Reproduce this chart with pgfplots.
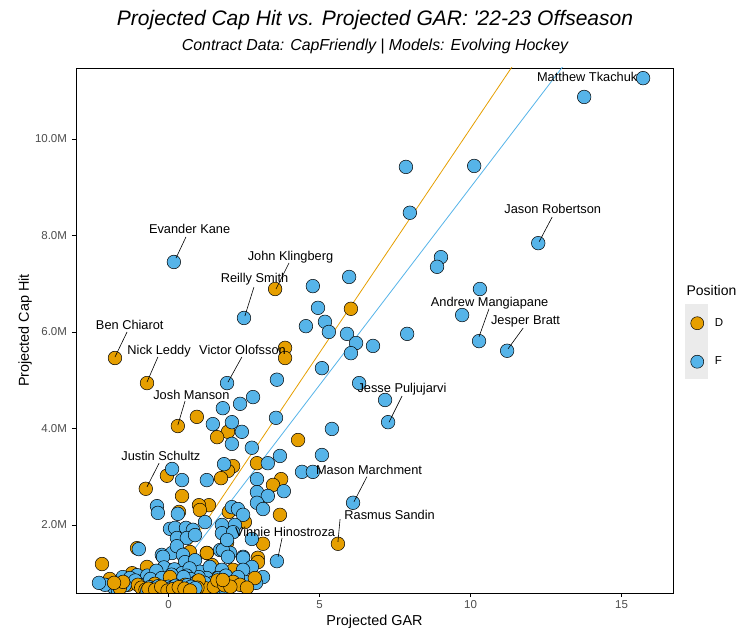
\documentclass[border=0pt]{standalone}
\usepackage{pgfplots}
\pgfplotsset{compat=1.18}
\usepackage{fontspec}
\setmainfont{Liberation Sans}
\definecolor{cD}{HTML}{E69F00}
\definecolor{cF}{HTML}{56B4E9}
\definecolor{tickgray}{HTML}{4D4D4D}
\definecolor{keygray}{HTML}{EBEBEB}
\tikzset{lab/.style={font=\fontsize{12.8}{15}\selectfont, inner sep=0pt}}
\pgfplotsset{dstyle/.style={only marks, mark=*, mark size=6.8pt, mark options={fill=cD, draw=black, line width=0.5pt}, forget plot},
  fstyle/.style={only marks, mark=*, mark size=6.8pt, mark options={fill=cF, draw=black, line width=0.5pt}, forget plot}}
\begin{document}
\begin{tikzpicture}
\path[use as bounding box, fill=white] (0pt,0pt) rectangle (750pt,637pt);
\fill[keygray] (685pt,258pt) rectangle (708pt,333pt);
\node[font=\fontsize{21}{25}\selectfont\itshape] at (375pt,617pt) {Projected Cap Hit vs. Projected GAR: \textquotesingle 22-23 Offseason};
\node[font=\fontsize{15.9}{19}\selectfont\itshape] at (375pt,590pt) {Contract Data: CapFriendly | Models: Evolving Hockey};
\node[font=\fontsize{14}{17}\selectfont, anchor=west] at (683pt,346pt) {Position};
\begin{axis}[
  clip marker paths=true,
  at={(76pt,44pt)}, anchor=south west,
  scale only axis, width=597pt, height=525pt,
  xmin=-3.06, xmax=16.7, ymin=0.59, ymax=11.47,
  xtick={0,5,10,15}, ytick={2,4,6,8,10},
  yticklabels={2.0M,4.0M,6.0M,8.0M,10.0M},
  tick align=outside, tick pos=left, major tick length=4pt,
  tick style={black, line width=0.5pt},
  axis line style={black, line width=0.8pt},
  ticklabel style={font=\fontsize{11.5}{13}\selectfont, text=tickgray},
  yticklabel style={xshift=-1.5pt},
  /pgf/number format/assume math mode=true,
  xlabel={Projected GAR}, ylabel={Projected Cap Hit},
  label style={font=\fontsize{14.4}{17}\selectfont},
  x label style={at={(axis description cs:0.5,-0.054)}, anchor=center},
  y label style={at={(axis description cs:-0.085,0.5)}, anchor=center},
  legend style={at={(1.0293,0.5267)}, anchor=north west, draw=none, fill=none,
    inner sep=0pt, outer sep=0pt, row sep=25pt, column sep=10pt,
    font=\fontsize{11.5}{13}\selectfont, nodes={inner sep=1pt}},
  legend cell align=left,
]
% regression lines
\addplot[cF, line width=0.8pt, forget plot] coordinates {(-3.06,-1.71) (16.7,14.49)};
\addplot[cD, line width=0.8pt, forget plot] coordinates {(-3.06,-1.93) (16.7,16.45)};
% Defensemen (first batch)
\addplot[dstyle] table {
x y
3.53 6.89
6.04 6.48
3.86 5.67
3.86 5.46
-1.77 5.46
-0.71 4.94
0.31 4.05
-0.75 2.75
5.61 1.61
4.29 3.76
0.94 4.24
1.97 3.93
1.61 3.82
2.93 3.28
2.14 3.22
1.97 3.12
1.74 2.97
3.73 2.95
3.46 2.83
-0.05 3.02
0.45 2.60
1.34 2.41
1.01 2.41
0.35 2.27
1.04 2.31
2.00 2.27
2.53 2.06
3.69 2.21
1.94 1.63
3.13 1.61
2.96 1.32
-1.04 1.52
-2.20 1.19
-1.94 0.88
-0.71 1.13
0.71 1.44
1.27 1.42
2.96 1.23
0.71 0.94
1.44 1.17
0.90 1.05
-1.20 1.00
-0.20 0.95
-1.34 0.76
-0.31 0.86
1.61 0.96
2.14 1.07
-0.12 0.80
0.35 0.82
-0.16 0.80
0.18 0.84
0.42 0.78
-0.52 0.84
0.76 0.82
-0.90 0.80
1.30 0.78
};
% Forwards
\addplot[fstyle] table {
x y
15.71 11.26
13.76 10.87
12.24 7.84
7.86 9.42
10.12 9.44
7.99 8.47
0.18 7.45
2.50 6.29
4.78 6.95
5.98 7.14
4.95 6.50
4.55 6.12
5.18 6.21
5.31 6.00
5.91 5.96
6.21 5.77
6.77 5.71
6.04 5.56
5.08 5.25
3.59 5.01
1.94 4.94
6.31 4.94
7.27 4.13
7.17 4.59
10.28 5.81
11.21 5.61
10.31 6.89
9.72 6.35
7.90 5.96
9.02 7.55
8.89 7.35
6.11 2.46
3.59 1.25
5.41 3.99
5.08 3.45
4.42 3.10
4.78 3.10
2.80 4.65
2.37 4.51
1.80 4.42
3.56 4.22
1.47 4.09
2.10 4.13
2.43 3.93
2.10 3.68
2.76 3.60
3.69 3.43
3.29 3.28
1.84 3.26
1.27 2.93
2.93 2.95
3.82 2.70
2.93 2.68
3.29 2.60
2.93 2.46
3.13 2.33
2.10 2.37
2.30 2.33
2.47 2.21
1.21 2.06
1.77 2.00
2.20 2.00
1.77 1.83
2.14 1.85
2.76 1.71
1.71 1.48
2.04 1.42
2.47 1.34
0.12 3.16
0.45 2.93
-0.38 2.39
-0.35 2.25
0.31 2.23
0.05 1.92
0.22 1.94
0.58 1.94
0.81 1.90
0.28 1.73
0.61 1.73
0.88 1.79
-0.98 1.50
-0.22 1.38
0.12 1.42
0.28 1.56
0.48 1.38
-1.84 0.72
-1.51 0.92
-1.04 0.96
-0.84 0.84
-0.51 0.92
-0.25 1.01
-0.02 1.07
-0.18 1.34
0.55 1.23
0.88 1.27
1.04 1.03
1.37 1.13
1.27 0.90
1.14 0.72
1.47 0.80
0.88 0.80
0.55 0.86
0.28 0.96
0.05 0.82
-0.05 0.72
1.77 1.07
1.80 1.48
1.97 1.34
1.94 1.69
2.10 0.86
2.47 1.32
2.76 1.13
2.47 1.07
3.13 0.92
-2.10 0.76
-1.67 0.65
-0.68 0.69
-0.35 0.65
0.38 0.65
0.71 0.69
1.54 0.65
1.87 0.69
-1.27 0.90
2.53 0.82
-0.55 0.80
-0.30 0.75
-0.10 0.88
0.15 0.78
0.40 0.72
0.65 0.85
0.80 0.76
1.00 0.92
-0.70 0.95
-0.15 1.12
0.20 1.08
0.45 1.00
0.70 1.10
1.20 0.80
1.65 0.90
-1.10 0.85
-1.45 0.75
0.00 0.68
0.30 0.66
0.60 0.95
-0.40 1.05
1.90 0.95
2.30 0.92
2.90 0.80
-2.30 0.80
-0.80 0.70
-0.72 0.78
-0.64 0.66
-0.56 0.74
-0.48 0.70
-0.40 0.82
-0.33 0.70
-0.26 0.79
-0.19 0.66
-0.12 0.74
-0.05 0.84
0.02 0.75
0.08 0.66
0.14 0.88
0.20 0.72
0.26 0.80
0.33 0.68
0.39 0.86
0.46 0.74
0.52 0.66
0.59 0.80
0.66 0.70
0.73 0.88
0.80 0.66
0.86 0.73
0.93 0.82
-0.60 0.88
-0.22 0.90
0.10 0.97
0.50 0.92
};
% Defensemen (second batch, drawn over forwards)
\addplot[dstyle] table {
x y
-1.01 0.76
1.27 1.42
1.71 0.82
2.14 0.82
0.22 0.69
0.55 0.76
0.88 0.65
-0.61 0.65
-1.61 0.69
1.21 0.69
2.37 0.76
2.86 0.90
-0.45 0.78
0.05 0.92
0.60 0.72
1.00 0.85
-0.90 0.70
1.50 0.72
2.60 0.70
-0.76 0.66
-0.36 0.67
0.04 0.70
0.62 0.67
0.96 0.70
1.62 0.85
1.85 0.75
2.05 0.72
1.80 0.86
-1.50 0.82
-1.80 0.80
};
% Forwards (dense cluster at the league minimum)
\addplot[fstyle] table {
x y
-0.70 0.64
-0.62 0.71
-0.55 0.63
-0.47 0.69
-0.41 0.62
-0.34 0.73
-0.27 0.65
-0.21 0.70
-0.14 0.62
-0.08 0.68
0.00 0.72
0.06 0.63
0.12 0.70
0.18 0.64
0.24 0.74
0.31 0.62
0.37 0.69
0.43 0.65
0.50 0.71
0.56 0.63
0.62 0.75
0.69 0.66
0.75 0.72
0.82 0.63
0.89 0.69
};
% Defensemen (dense cluster)
\addplot[dstyle] table {
x y
-0.66 0.68
-0.44 0.66
-0.24 0.72
-0.03 0.64
0.15 0.67
0.34 0.71
0.53 0.68
0.72 0.64
};
\addlegendimage{legend image code/.code={\draw[fill=cD,draw=black,line width=0.5pt] (0pt,0pt) circle (6.5pt);}}
\addlegendentry{D}
\addlegendimage{legend image code/.code={\draw[fill=cF,draw=black,line width=0.5pt] (0pt,0pt) circle (6.5pt);}}
\addlegendentry{F}
% labels
\node[lab] at (axis cs:13.86,11.28) {Matthew Tkachuk};
\node[lab] at (axis cs:12.72,8.55) {Jason Robertson};
\draw[black, line width=0.6pt] (axis cs:12.70,8.38) -- (axis cs:12.27,7.87);
\node[lab] at (axis cs:10.63,6.60) {Andrew Mangiapane};
\draw[black, line width=0.6pt] (axis cs:10.61,6.48) -- (axis cs:10.28,5.90);
\node[lab] at (axis cs:11.82,6.21) {Jesper Bratt};
\draw[black, line width=0.6pt] (axis cs:11.74,6.08) -- (axis cs:11.24,5.65);
\node[lab] at (axis cs:7.73,4.82) {Jesse Puljujarvi};
\draw[black, line width=0.6pt] (axis cs:7.73,4.67) -- (axis cs:7.30,4.13);
\node[lab] at (axis cs:6.64,3.14) {Mason Marchment};
\draw[black, line width=0.6pt] (axis cs:6.57,3.00) -- (axis cs:6.14,2.48);
\node[lab] at (axis cs:7.32,2.21) {Rasmus Sandin};
\draw[black, line width=0.6pt] (axis cs:5.68,2.12) -- (axis cs:5.61,1.65);
\node[lab] at (axis cs:3.86,1.85) {Vinnie Hinostroza};
\draw[black, line width=0.6pt] (axis cs:3.76,1.73) -- (axis cs:3.63,1.34);
\node[lab] at (axis cs:4.04,7.55) {John Klingberg};
\draw[black, line width=0.6pt] (axis cs:3.99,7.43) -- (axis cs:3.56,6.89);
\node[lab] at (axis cs:2.85,7.10) {Reilly Smith};
\draw[black, line width=0.6pt] (axis cs:2.83,6.93) -- (axis cs:2.53,6.33);
\node[lab] at (axis cs:2.45,5.63) {Victor Olofsson};
\draw[black, line width=0.6pt] (axis cs:2.43,5.48) -- (axis cs:1.97,4.96);
\node[lab] at (axis cs:-1.28,6.15) {Ben Chiarot};
\draw[black, line width=0.6pt] (axis cs:-1.37,6.00) -- (axis cs:-1.77,5.48);
\node[lab] at (axis cs:-0.31,5.61) {Nick Leddy};
\draw[black, line width=0.6pt] (axis cs:-0.35,5.48) -- (axis cs:-0.71,4.96);
\node[lab] at (axis cs:0.76,4.69) {Josh Manson};
\draw[black, line width=0.6pt] (axis cs:0.55,4.57) -- (axis cs:0.31,4.07);
\node[lab] at (axis cs:-0.25,3.43) {Justin Schultz};
\draw[black, line width=0.6pt] (axis cs:-0.31,3.28) -- (axis cs:-0.71,2.79);
\node[lab] at (axis cs:0.70,8.13) {Evander Kane};
\draw[black, line width=0.6pt] (axis cs:0.58,7.97) -- (axis cs:0.25,7.53);
\end{axis}
\end{tikzpicture}
\end{document}
